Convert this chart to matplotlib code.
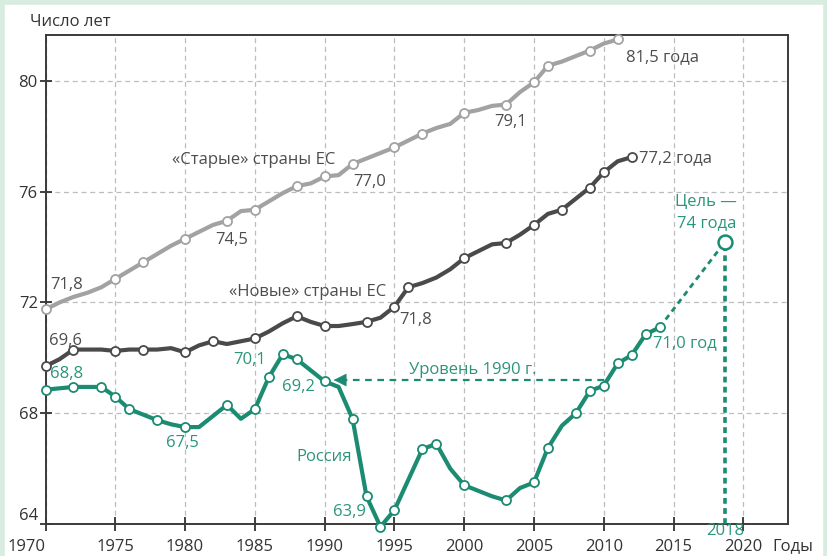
import numpy as np
import matplotlib
matplotlib.use('Agg')
import matplotlib.pyplot as plt
from matplotlib.patches import Rectangle

plt.rcParams['font.family'] = ['Open Sans', 'DejaVu Sans']
plt.rcParams['font.size'] = 12

# -------------------------
# Данные (оценка по рисунку)
# -------------------------
years_old = np.arange(1970, 2012)
old_eu = [71.75, 72.0, 72.2, 72.35, 72.55, 72.85, 73.15, 73.45, 73.75, 74.05,
          74.3, 74.55, 74.8, 74.95, 75.3, 75.35, 75.65, 75.95, 76.2, 76.3,
          76.55, 76.6, 77.0, 77.2, 77.4, 77.6, 77.85, 78.1, 78.3, 78.45,
          78.85, 78.95, 79.1, 79.15, 79.6, 79.95, 80.55, 80.7, 80.9, 81.1,
          81.35, 81.5]
old_marks = [1970, 1975, 1977, 1980, 1983, 1985, 1988, 1990, 1992, 1995,
             1997, 2000, 2003, 2005, 2006, 2009, 2011]

years_new = np.arange(1970, 2013)
new_eu = [69.7, 69.95, 70.3, 70.3, 70.3, 70.25, 70.3, 70.3, 70.3, 70.35,
          70.2, 70.45, 70.6, 70.5, 70.6, 70.7, 70.95, 71.25, 71.5, 71.3,
          71.15, 71.15, 71.22, 71.3, 71.45, 71.85, 72.55, 72.7, 72.9, 73.2,
          73.6, 73.85, 74.1, 74.15, 74.45, 74.8, 75.2, 75.35, 75.75, 76.15,
          76.7, 77.1, 77.25]
new_marks = [1970, 1972, 1975, 1977, 1980, 1982, 1985, 1988, 1990, 1993,
             1995, 1996, 2000, 2003, 2005, 2007, 2009, 2010, 2012]

years_ru = np.arange(1970, 2015)
russia = [68.85, 68.9, 68.95, 68.95, 68.95, 68.6, 68.15, 67.95, 67.75, 67.6,
          67.5, 67.5, 67.9, 68.3, 67.8, 68.15, 69.3, 70.13, 69.95, 69.55,
          69.15, 68.95, 67.8, 65.0, 63.9, 64.5, 65.6, 66.7, 66.9, 66.0,
          65.4, 65.2, 65.0, 64.85, 65.3, 65.5, 66.75, 67.55, 68.0, 68.8,
          69.0, 69.8, 70.1, 70.85, 71.1]
ru_marks = [1970, 1972, 1974, 1975, 1976, 1978, 1980, 1983, 1985, 1986,
            1987, 1988, 1990, 1992, 1993, 1994, 1995, 1997, 1998, 2000,
            2003, 2005, 2006, 2008, 2009, 2010, 2011, 2012, 2013, 2014]

target_year = 2018.7
target_value = 74.2
level_year = 1990
level_end = 2010

x_ticks = [1970, 1975, 1980, 1985, 1990, 1995, 2000, 2005, 2010, 2015, 2020]
y_ticks = [64, 68, 72, 76, 80]

# -------------------------
# Цвета
# -------------------------
c_old = '#a2a2a2'
c_new = '#4a4a4a'
c_ru = '#1b8b72'
c_ru_txt = '#2a957b'
c_txt = '#4d4d4d'

fig = plt.figure(figsize=(8.27, 5.56), dpi=100)
fig.patch.set_facecolor('#d8ecdf')
fig.add_artist(Rectangle((5 / 827, 0), 817 / 827, 551 / 556,
                         transform=fig.transFigure, color='white', zorder=-5))
ax = fig.add_axes([45.5 / 827, 32 / 556, 742.5 / 827, 489 / 556])

def draw(years, vals, marks, color, z):
    idx = [list(years).index(y) for y in marks]
    ax.plot(years, vals, color=color, lw=3.0, marker='o', ms=6.5,
            mfc='white', mec=color, mew=1.3, markevery=idx,
            solid_joinstyle='round', solid_capstyle='round',
            clip_on=False, zorder=z)

draw(years_old, old_eu, old_marks, c_old, 3)
draw(years_new, new_eu, new_marks, c_new, 4)

# Прогноз и цель
ax.plot([years_ru[-1], target_year], [russia[-1], target_value],
        color=c_ru, lw=2.0, ls=(0, (2, 1.6)), zorder=4)
ax.vlines(target_year, 64, target_value, color=c_ru, lw=2.6,
          linestyles=[(0, (1.6, 1.2))], zorder=4)
draw(years_ru, russia, ru_marks, c_ru, 5)
ax.plot(target_year, target_value, 'o', ms=10, mfc='white', mec=c_ru,
        mew=1.8, zorder=6)

# Уровень 1990 г.
lvl = russia[list(years_ru).index(level_year)] + 0.05
ax.plot([level_end, level_year + 1.2], [lvl, lvl], color=c_ru, lw=1.6,
        ls=(0, (3, 2.5)), zorder=4)
ax.annotate('', xy=(level_year + 0.45, lvl), xytext=(level_year + 1.4, lvl),
            arrowprops=dict(arrowstyle='-|>,head_length=0.7,head_width=0.35',
                            color=c_ru, lw=0.5), zorder=4)

# -------------------------
# Подписи
# -------------------------
tk = dict(fontsize=12, zorder=7)
ax.text(2011.6, 80.87, '81,5 года', color=c_txt, ha='left', va='center', **tk)
ax.text(2003.3, 78.52, '79,1', color=c_txt, ha='center', va='center', **tk)
ax.text(1984.95, 77.15, '«Старые» страны ЕС', color=c_txt, ha='center', va='center', **tk)
ax.text(1993.26, 76.35, '77,0', color=c_txt, ha='center', va='center', **tk)
ax.text(1983.37, 74.26, '74,5', color=c_txt, ha='center', va='center', **tk)
ax.text(1971.5, 72.62, '71,8', color=c_txt, ha='center', va='center', **tk)
ax.text(2012.5, 77.22, '77,2 года', color=c_txt, ha='left', va='center', **tk)
ax.text(1988.75, 72.38, '«Новые» страны ЕС', color=c_txt, ha='center', va='center', **tk)
ax.text(1996.5, 71.37, '71,8', color=c_txt, ha='center', va='center', **tk)
ax.text(1971.4, 70.62, '69,6', color=c_txt, ha='center', va='center', **tk)

ax.text(1971.5, 69.42, '68,8', color=c_ru_txt, ha='center', va='center', **tk)
ax.text(1984.6, 69.93, '70,1', color=c_ru_txt, ha='center', va='center', **tk)
ax.text(1988.1, 68.95, '69,2', color=c_ru_txt, ha='center', va='center', **tk)
ax.text(1979.8, 66.93, '67,5', color=c_ru_txt, ha='center', va='center', **tk)
ax.text(1990.0, 66.43, 'Россия', color=c_ru_txt, ha='center', va='center', **tk)
ax.text(1991.8, 64.44, '63,9', color=c_ru_txt, ha='center', va='center', **tk)
ax.text(2013.55, 70.54, '71,0 год', color=c_ru_txt, ha='left', va='center', **tk)
ax.text(2017.35, 75.63, 'Цель —', color=c_ru_txt, ha='center', va='center', **tk)
ax.text(2017.4, 74.87, '74 года', color=c_ru_txt, ha='center', va='center', **tk)
ax.text(2000.6, 69.57, 'Уровень 1990 г.', color=c_ru_txt, ha='center', va='center', **tk)
ax.text(target_year, -0.015, '2018', color=c_ru_txt, ha='center', va='center',
        transform=ax.get_xaxis_transform(), **tk)
ax.text(2022.1, -0.046, 'Годы', color='#333333', ha='left', va='center',
        transform=ax.get_xaxis_transform(), fontsize=12)
fig.text(30 / 827, 1 - 22 / 556, 'Число лет', color='#333333', ha='left',
         va='center', fontsize=12)

# -------------------------
# Оси
# -------------------------
ax.set_xlim(1970, 2023.2)
ax.set_ylim(64, 81.66)
ax.set_xticks(x_ticks)
ax.set_yticks(y_ticks)
ax.tick_params(axis='x', direction='inout', length=10, width=1.3,
               pad=5.5, colors='#333333', labelsize=12)
ax.tick_params(axis='y', direction='inout', length=9, width=1.3,
               pad=1, colors='#333333', labelsize=12)
ax.get_xticklabels()[0].set_ha('right')
ax.get_yticklabels()[0].set_va('bottom')
for s in ax.spines.values():
    s.set_color('#3a3a3a')
    s.set_linewidth(1.4)
ax.grid(True, color='#bdbdbd', lw=0.9, ls=(0, (4, 3)))
ax.set_axisbelow(True)

fig.savefig('out.png', dpi=100, facecolor=fig.get_facecolor())
